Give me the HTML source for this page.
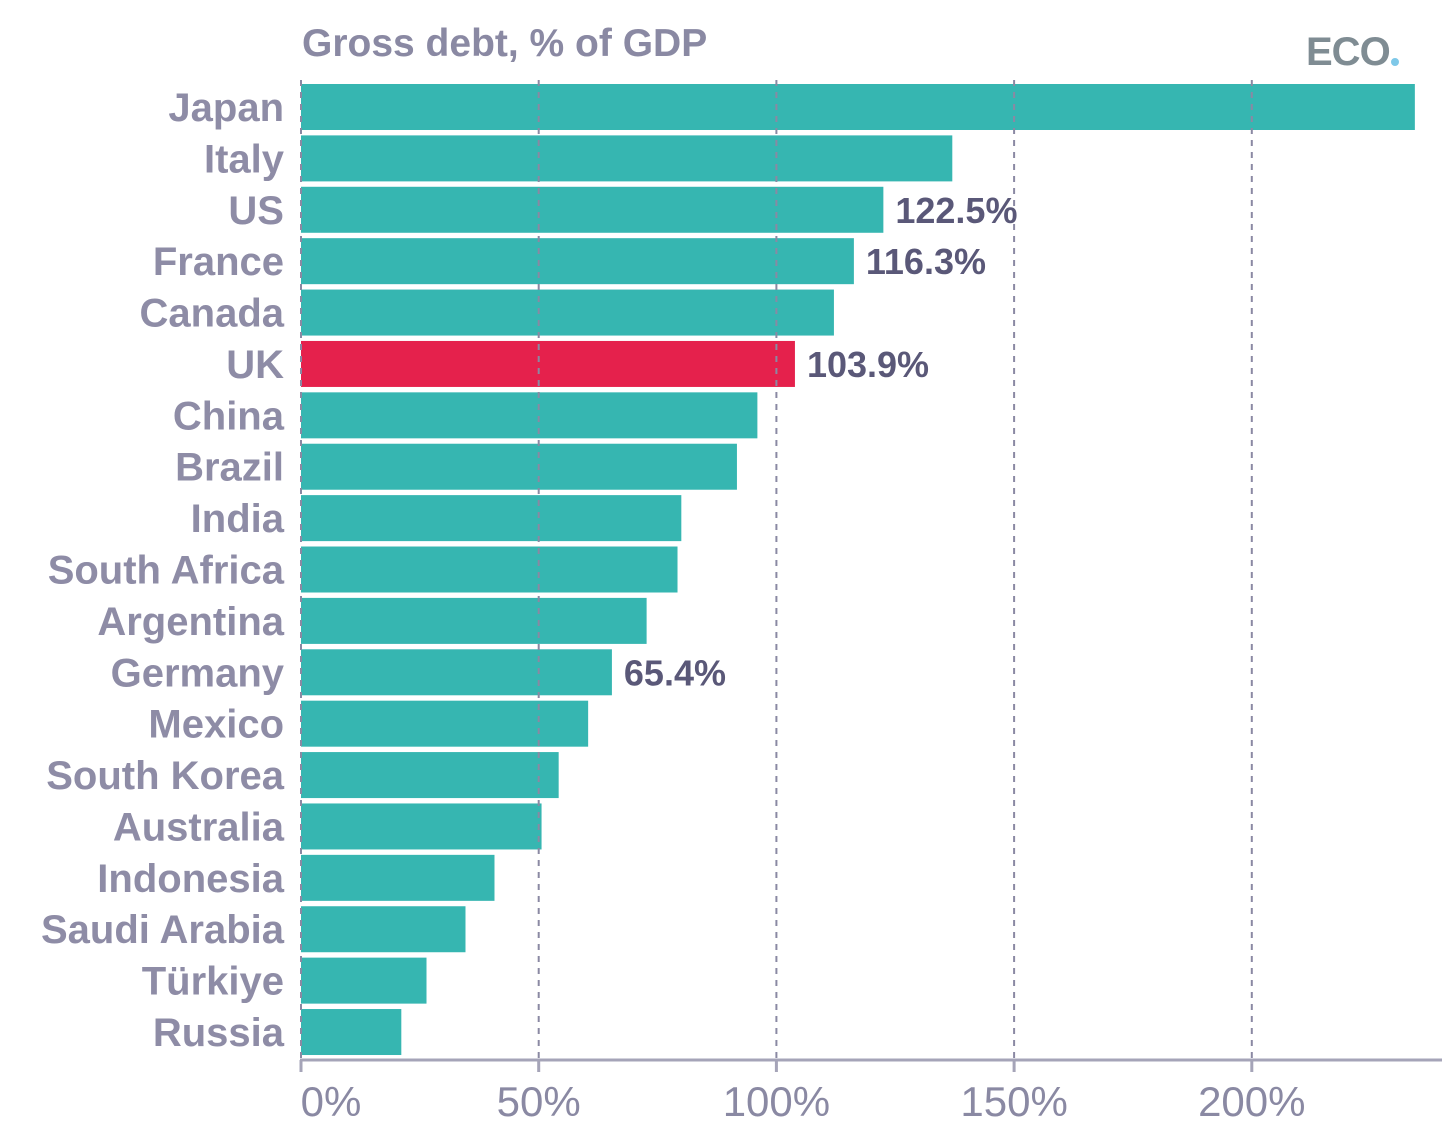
<!DOCTYPE html>
<html><head><meta charset="utf-8"><style>
html,body{margin:0;padding:0;background:#fff;width:1456px;height:1140px;overflow:hidden}
svg text{font-family:"Liberation Sans",sans-serif}
</style></head><body>
<svg id="chart" width="1456" height="1140" viewBox="0 0 1456 1140">
<text x="302" y="56" font-size="39" font-weight="bold" fill="#8a89a3">Gross debt, % of GDP</text>
<g>
<text x="1306" y="65" font-size="40" font-weight="bold" fill="#7f8c93" letter-spacing="-1">ECO</text>
<circle cx="1395" cy="62" r="4" fill="#7ec8e8"/>
</g>
<g id="bars"></g><g id="grid"></g><g id="labels"></g><g id="axis"></g>
</svg>
<script>
const categories=["Japan","Italy","US","France","Canada","UK","China","Brazil","India","South Africa","Argentina","Germany","Mexico","South Korea","Australia","Indonesia","Saudi Arabia","Türkiye","Russia"];
const values=[234.3,137.0,122.5,116.3,112.1,103.9,96.0,91.7,80.0,79.2,72.7,65.4,60.4,54.2,50.6,40.7,34.6,26.4,21.1];
const valueLabels=["","","122.5%","116.3%","","103.9%","","","","","","65.4%","","","","","","",""];
const ticks=[0,50,100,150,200];
const highlight="UK";
const NS="http://www.w3.org/2000/svg";
const x0=301,pxPer=4.754;
function xs(v){return x0+v*pxPer;}
function yb(i){return 84+i*51.39;}
const bh=46;
function mk(t,a,p){const e=document.createElementNS(NS,t);for(const k in a)e.setAttribute(k,a[k]);p.appendChild(e);return e;}
const gb=document.getElementById('bars'),gl=document.getElementById('labels'),gg=document.getElementById('grid'),ga=document.getElementById('axis');
categories.forEach((c,i)=>{
 const r=mk('rect',{x:x0,y:yb(i),width:xs(values[i])-x0,height:bh,fill:c===highlight?'#e5214c':'#36b6b1'},gb);
 
 
 const t=mk('text',{x:284,y:yb(i)+bh/2+14,'font-size':40,'font-weight':'bold',fill:'#8e8ca6','text-anchor':'end'},gl);
 t.textContent=c;
 
 
 if(valueLabels[i]){
  const v=mk('text',{x:xs(values[i])+12,y:yb(i)+bh/2+13,'font-size':36,'font-weight':'bold',fill:'#5a5878'},gl);
  v.textContent=valueLabels[i];
  
  
 }
});
ticks.forEach(t=>{
 const l=mk('line',{x1:xs(t),x2:xs(t),y1:80,y2:1060,stroke:'#8a89a3','stroke-width':2,'stroke-dasharray':'6,6'},gg);
 
 
 const k=mk('line',{x1:xs(t),x2:xs(t),y1:1060,y2:1072,stroke:'#a5a4b8','stroke-width':3},ga);
 
 
 const tl=mk('text',{x:xs(t)+(t===0?30:0),y:1116,'font-size':42,fill:'#8a89a3','text-anchor':'middle'},ga);
 tl.textContent=t+'%';
 
 
});
const ax=mk('line',{x1:300,x2:1442,y1:1060,y2:1060,stroke:'#a5a4b8','stroke-width':3},ga);


</script>
</body></html>
